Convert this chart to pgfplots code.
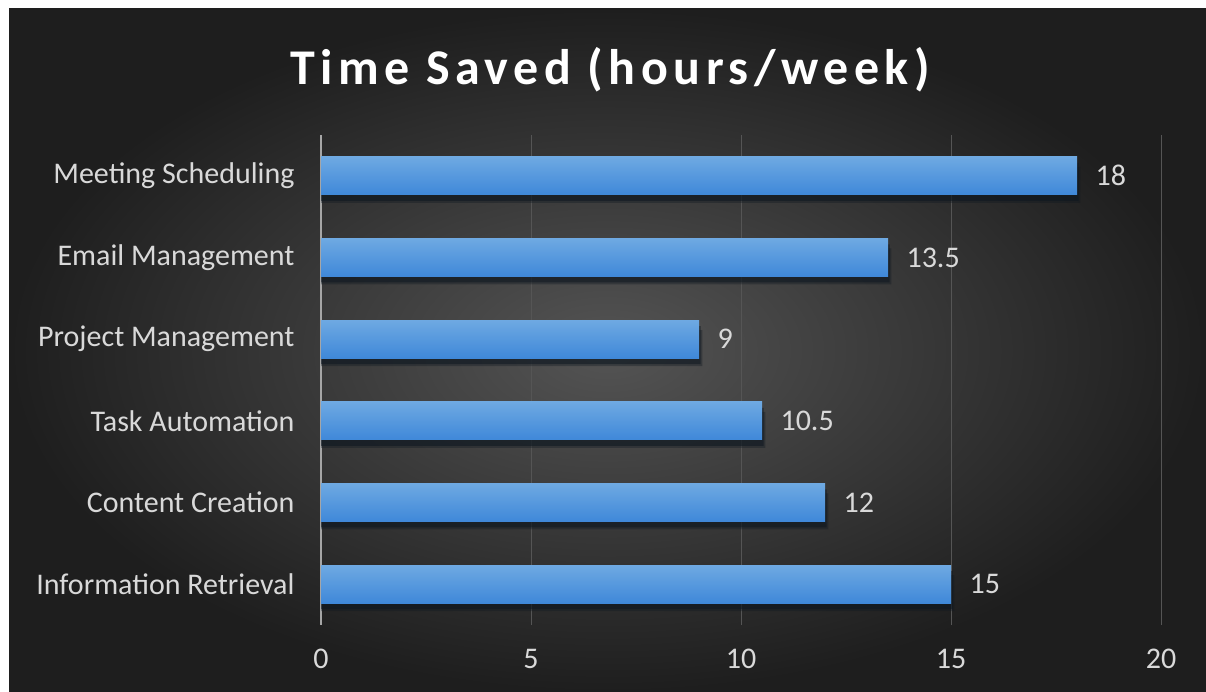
\documentclass[border=0pt]{standalone}
\usepackage{pgfplots}
\pgfplotsset{compat=1.18}
\usepackage{fontspec}
\setmainfont{Carlito}
\newfontfamily\titlefont[LetterSpace=11]{Carlito}
\definecolor{bgin}{HTML}{545454}
\definecolor{bgout}{HTML}{1E1E1E}
\definecolor{txt}{HTML}{D9D9D9}
\definecolor{gridc}{HTML}{555555}
\definecolor{axisc}{HTML}{A6A6A6}
\definecolor{bartop}{HTML}{6EA9E2}
\definecolor{barbot}{HTML}{3F88D9}
\definecolor{shadowc}{HTML}{0E1720}
\begin{document}
\begin{tikzpicture}[x=1pt,y=1pt]
\fill[white] (0pt,0pt) rectangle (1206pt,692pt);
\shade[inner color=bgin, outer color=bgout] (9pt,0pt) rectangle (1206pt,683pt);
\path[use as bounding box] (0pt,0pt) rectangle (1206pt,692pt);
\node[font=\titlefont\bfseries\fontsize{50}{58}\selectfont, text=white] at (610pt,622pt) {Time Saved (hours/week)};
\begin{axis}[
  at={(321pt,67pt)}, anchor=south west,
  scale only axis, width=840pt, height=490pt,
  xbar, bar width=38pt, bar shift=0pt,
  cycle list={{draw=none}},
  xmin=0, xmax=20, ymin=-0.5, ymax=5.5,
  ytick={0,1,2,3,4,5},
  yticklabels={Information Retrieval, Content Creation, Task Automation, Project Management, Email Management, Meeting Scheduling},
  xtick={0,5,10,15,20},
  axis lines*=left,
  x axis line style={draw=none},
  y axis line style={draw=axisc, line width=1.6pt},
  major tick length=0pt,
  xmajorgrids, grid style={draw=gridc, line width=0.8pt},
  /pgf/number format/assume math mode=true,
  tick label style={font=\fontsize{30}{34}\selectfont, text=txt},
  xticklabel style={yshift=-21pt},
  yticklabel style={xshift=-23pt},
  mybar/.style={draw=none, top color=bartop, bottom color=barbot, nodes near coords,
    nodes near coords style={font=\fontsize{30}{34}\selectfont, text=txt, anchor=west, xshift=15pt}},
]
% soft shadow beneath the bars
\addplot[draw=none, fill=shadowc, fill opacity=0.35, bar shift=-9pt, bar width=36pt]
  coordinates {(15.08,0) (12.08,1) (10.58,2) (9.08,3) (13.58,4) (18.08,5)};
\addplot[draw=none, fill=shadowc, fill opacity=0.55, bar shift=-6pt, bar width=38pt]
  coordinates {(15.04,0) (12.04,1) (10.54,2) (9.04,3) (13.54,4) (18.04,5)};
\addplot[mybar] coordinates {(15,0)};
\addplot[mybar] coordinates {(12,1)};
\addplot[mybar] coordinates {(10.5,2)};
\addplot[mybar] coordinates {(9,3)};
\addplot[mybar] coordinates {(13.5,4)};
\addplot[mybar] coordinates {(18,5)};
\end{axis}
\end{tikzpicture}
\end{document}
